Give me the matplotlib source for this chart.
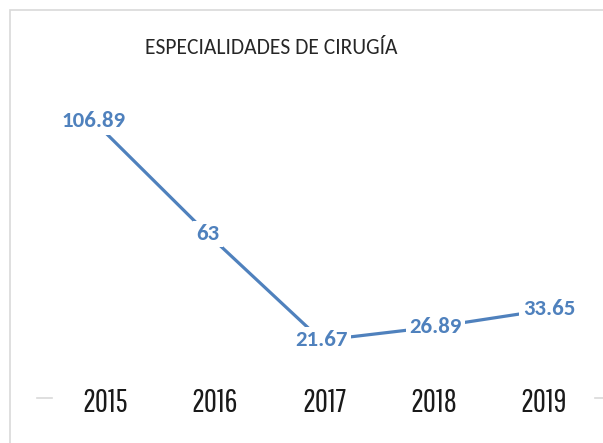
import numpy as np
import matplotlib
matplotlib.use("Agg")
from matplotlib import pyplot as plt
from matplotlib.patches import Rectangle

years = ["2015", "2016", "2017", "2018", "2019"]
values = [106.89, 63, 21.67, 26.89, 33.65]
value_labels = ["106.89", "63", "21.67", "26.89", "33.65"]
title = "ESPECIALIDADES DE CIRUGÍA"

blue = "#4f81bd"
W, H = 603, 443

fig = plt.figure(figsize=(W / 100, H / 100), dpi=100)

### chart border (light grey, cropped at right/bottom)
fig.patches.append(Rectangle((10 / W, -0.2), 1.2, (H - 10) / H + 0.2, transform=fig.transFigure,
                             fill=False, edgecolor="#d9d9d9", lw=1.2))

ax = fig.add_axes([37 / W, (H - 396) / H, (606 - 37) / W, (396 - 87.5) / H])
ax.patch.set_visible(False)
x = np.arange(len(years))
ax.plot(x, values, color=blue, lw=2.3, solid_capstyle="butt", zorder=1)

for xi, v, lab in zip(x, values, value_labels):
    ax.text(xi, v, lab, ha="center", va="center", color=blue, fontsize=16.5,
            fontweight="bold", family=["Carlito", "DejaVu Sans"], zorder=3,
            bbox=dict(facecolor="white", edgecolor="none", pad=2.5))

ax.set_xlim(-0.5, len(years) - 0.5)
ax.set_ylim(0, 120)
# category labels sit slightly tighter than the points in the original
ax.set_xticks(x * 0.963 + 0.097)
ax.set_xticklabels(years, family=["Pathway Gothic One", "DejaVu Sans"], fontsize=23, color="#1a1a1a")
ax.tick_params(axis="x", length=0, pad=-6)
ax.set_yticks([])
for s in ax.spines.values():
    s.set_visible(False)

### short axis stubs at both ends of the category axis
ax.plot([0, 0.026], [-0.007, -0.007], transform=ax.transAxes, color="#d9d9d9", lw=1.2, clip_on=False)
ax.plot([0.98, 1.0], [-0.007, -0.007], transform=ax.transAxes, color="#d9d9d9", lw=1.2, clip_on=False)

fig.text(271 / W, (H - 48) / H, title, ha="center", va="center", fontsize=15.5,
         family=["Carlito", "DejaVu Sans"], color="#262626")

plt.savefig("out.png", dpi=100)
